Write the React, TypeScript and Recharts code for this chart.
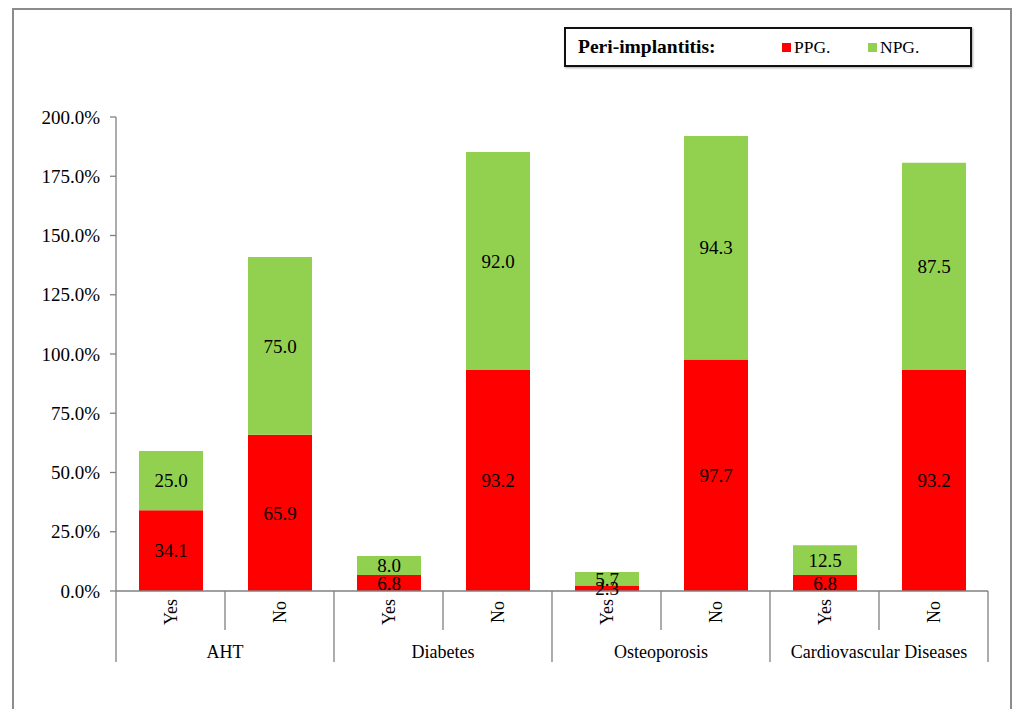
import React from 'react';
import { BarChart, Bar, XAxis, YAxis, LabelList } from 'recharts';

const categories = ['Yes', 'No', 'Yes', 'No', 'Yes', 'No', 'Yes', 'No'];
const groups = ['AHT', 'Diabetes', 'Osteoporosis', 'Cardiovascular Diseases'];
const ppgValues = [34.1, 65.9, 6.8, 93.2, 2.3, 97.7, 6.8, 93.2];
const npgValues = [25.0, 75.0, 8.0, 92.0, 5.7, 94.3, 12.5, 87.5];
const yTicks = [0, 25, 50, 75, 100, 125, 150, 175, 200];

const SERIES = [
  { key: 'PPG', name: 'PPG.', color: '#ff0000' },
  { key: 'NPG', name: 'NPG.', color: '#92d050' },
];

const FONT = '"Liberation Serif", "Times New Roman", serif';
const AXIS_GREY = '#808080';

const W = 1014;
const H = 709;
const MARGIN = { top: 117, right: 26, left: 0, bottom: 38 };
const Y_AXIS_W = 116;
const X_AXIS_H = 80;
const PLOT_W = W - MARGIN.left - MARGIN.right - Y_AXIS_W;
const BAND = PLOT_W / categories.length;

const chartData = categories.map((c, i) => ({
  id: i,
  label: c,
  PPG: ppgValues[i],
  NPG: npgValues[i],
}));

// two-level category axis: rotated Yes/No, separators, group names underneath
const CategoryTick = ({ x, y, index }: any) => {
  const odd = index % 2 === 1;
  return (
    <g>
      <text
        transform={`translate(${x}, ${y + 21}) rotate(-90)`}
        textAnchor="middle"
        dominantBaseline="central"
        style={{ fontFamily: FONT }}
        fontSize={18}
        fill="#000"
      >
        {categories[index]}
      </text>
      {index === 0 && (
        <line x1={x - BAND / 2} x2={x - BAND / 2} y1={y} y2={y + 71} stroke={AXIS_GREY} strokeWidth={1.3} />
      )}
      <line x1={x + BAND / 2} x2={x + BAND / 2} y1={y} y2={y + (odd ? 71 : 39)} stroke={AXIS_GREY} strokeWidth={1.3} />
      {odd && (
        <text
          x={x - BAND / 2}
          y={y + 61}
          textAnchor="middle"
          dominantBaseline="central"
          style={{ fontFamily: FONT }}
          fontSize={18}
          fill="#000"
        >
          {groups[(index - 1) / 2]}
        </text>
      )}
    </g>
  );
};

function LegendBox() {
  return (
    <div
      style={{
        position: 'absolute', left: 564, top: 27, width: 408, height: 40,
        boxSizing: 'border-box', border: '2px solid #111',
        boxShadow: '1px 1px 2px rgba(0,0,0,0.35)', background: '#fff',
        display: 'flex', alignItems: 'center', fontFamily: FONT, color: '#000',
      }}
    >
      <span style={{ fontWeight: 700, fontSize: 19.5, marginLeft: 12, width: 204 }}>Peri-implantitis:</span>
      {SERIES.map((s) => (
        <span key={s.key} style={{ display: 'flex', alignItems: 'center', fontSize: 17.5, width: 86 }}>
          <span style={{ width: 9, height: 9, background: s.color, marginRight: 3, display: 'inline-block' }} />
          {s.name}
        </span>
      ))}
    </div>
  );
}

export default function App() {
  return (
    <div
      style={{
        position: 'absolute', left: 0, top: 0, width: W, height: H,
        background: '#fff', overflow: 'hidden', fontFamily: FONT,
      }}
    >
      <div
        style={{
          position: 'absolute', left: 12, top: 8, width: 1000, height: 730,
          boxSizing: 'border-box', border: '2px solid #8c8c8c',
        }}
      />
      <div style={{ position: 'absolute', left: 0, top: 0, fontFamily: FONT }}>
        <BarChart width={W} height={H} data={chartData} margin={MARGIN} barSize={64} style={{ fontFamily: FONT }}>
          <XAxis
            dataKey="id"
            type="category"
            interval={0}
            height={X_AXIS_H}
            tickSize={0}
            tickMargin={0}
            tickLine={false}
            axisLine={{ stroke: AXIS_GREY, strokeWidth: 1.3 }}
            tick={<CategoryTick />}
          />
          <YAxis
            width={Y_AXIS_W}
            domain={[0, 200]}
            ticks={yTicks}
            interval={0}
            tickSize={6}
            tickMargin={10}
            axisLine={{ stroke: AXIS_GREY, strokeWidth: 1.3 }}
            tickLine={{ stroke: AXIS_GREY, strokeWidth: 1.3 }}
            tickFormatter={(v: number) => `${v.toFixed(1)}%`}
            tick={{ fill: '#000', fontSize: 19, style: { fontFamily: FONT } }}
          />
          {SERIES.map((s) => (
            <Bar key={s.key} dataKey={s.key} name={s.name} stackId="a" fill={s.color} isAnimationActive={false}>
              <LabelList
                dataKey={s.key}
                position="center"
                formatter={(v: any) => Number(v).toFixed(1)}
                fill="#000"
                fontSize={19}
                style={{ fontFamily: FONT }}
              />
            </Bar>
          ))}
        </BarChart>
      </div>
      <LegendBox />
    </div>
  );
}
